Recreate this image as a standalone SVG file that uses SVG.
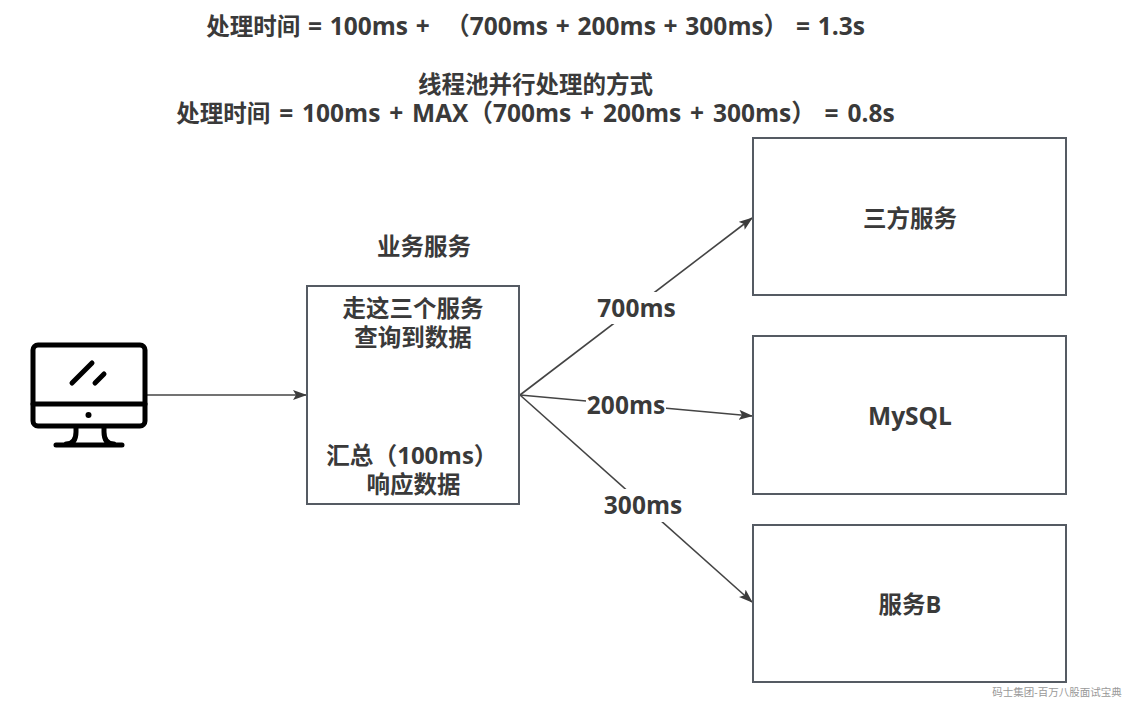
<svg xmlns="http://www.w3.org/2000/svg" width="1129" height="702" viewBox="0 0 1129 702">
<defs>
<marker id="arrow" markerWidth="14" markerHeight="10" refX="13" refY="5" orient="auto" markerUnits="userSpaceOnUse"><path d="M0 0L14 5L0 10L3 5Z" fill="#3c3c3c"/></marker>
</defs>
<style>
text{font-family:"Open Sans","Noto Sans CJK SC",sans-serif;font-weight:700;font-size:23.500px;fill:#3a3a3a;text-anchor:middle}
.lat{font-size:24.500px}
.t1{word-spacing:1.400px}
.t2{word-spacing:2.500px}
.box{fill:#fff;stroke:#555b63;stroke-width:2}
.link{fill:none;stroke:#444;stroke-width:1.6;marker-end:url(#arrow)}
.mask{fill:#fff}
.ic{fill:none;stroke:#000;stroke-width:5;stroke-linecap:round;stroke-linejoin:round}
</style>
<rect width="1129" height="702" fill="#fff"/>
<g id="titles">
<text class="t1" x="535.500" y="35" xml:space="preserve">处理时间<tspan class="lat"> = 100ms +  （700ms + 200ms + 300ms） = 1.3s</tspan></text>
<text x="535.500" y="93">线程池并行处理的方式</text>
<text class="t2" x="535.500" y="122">处理时间<tspan class="lat"> = 100ms + MAX（700ms + 200ms + 300ms） = 0.8s</tspan></text>
</g>
<g id="connectors">
<line class="link" x1="147" y1="395" x2="306" y2="395"/>
<line class="link" x1="520" y1="395" x2="752" y2="218"/>
<line class="link" x1="520" y1="395" x2="752" y2="416"/>
<line class="link" x1="520" y1="395" x2="752" y2="602"/>
</g>
<g id="computer">
<rect class="ic" x="33" y="345" width="112" height="81" rx="5"/>
<line class="ic" x1="33" y1="404" x2="145" y2="404"/>
<line class="ic" x1="72" y1="383" x2="92" y2="363"/>
<line class="ic" x1="95" y1="383" x2="104" y2="374"/>
<circle cx="88.500" cy="415" r="3" fill="#000"/>
<path class="ic" d="M76 428V432Q76 444 66 444M104 428V432Q104 444 114 444M56 445H122"/>
</g>
<g id="business">
<rect class="box" x="307" y="286" width="212" height="218"/>
<text x="424" y="255">业务服务</text>
<text x="413" y="317">走这三个服务</text>
<text x="413" y="346">查询到数据</text>
<text x="412" y="464">汇总<tspan style="font-size:24px">（100ms）</tspan></text>
<text x="413.500" y="493">响应数据</text>
</g>
<g id="third-party">
<rect class="box" x="753" y="138" width="313" height="157"/>
<text x="910" y="227">三方服务</text>
</g>
<g id="mysql">
<rect class="box" x="753" y="336" width="313" height="158"/>
<text class="lat" x="910" y="425">MySQL</text>
</g>
<g id="service-b">
<rect class="box" x="753" y="525" width="313" height="157"/>
<text x="910" y="613">服务B</text>
</g>
<g id="edge-labels">
<rect class="mask" x="596" y="292" width="80" height="32"/>
<text class="lat" x="636.500" y="317">700ms</text>
<rect class="mask" x="586" y="394" width="80" height="24"/>
<text class="lat" x="626" y="414">200ms</text>
<rect class="mask" x="603" y="489" width="80" height="33"/>
<text class="lat" x="643" y="514">300ms</text>
</g>
<g id="watermark"><text x="1057" y="696" style="font-size:10.500px;font-weight:400;fill:#999">码士集团-百万八股面试宝典</text></g>
</svg>
